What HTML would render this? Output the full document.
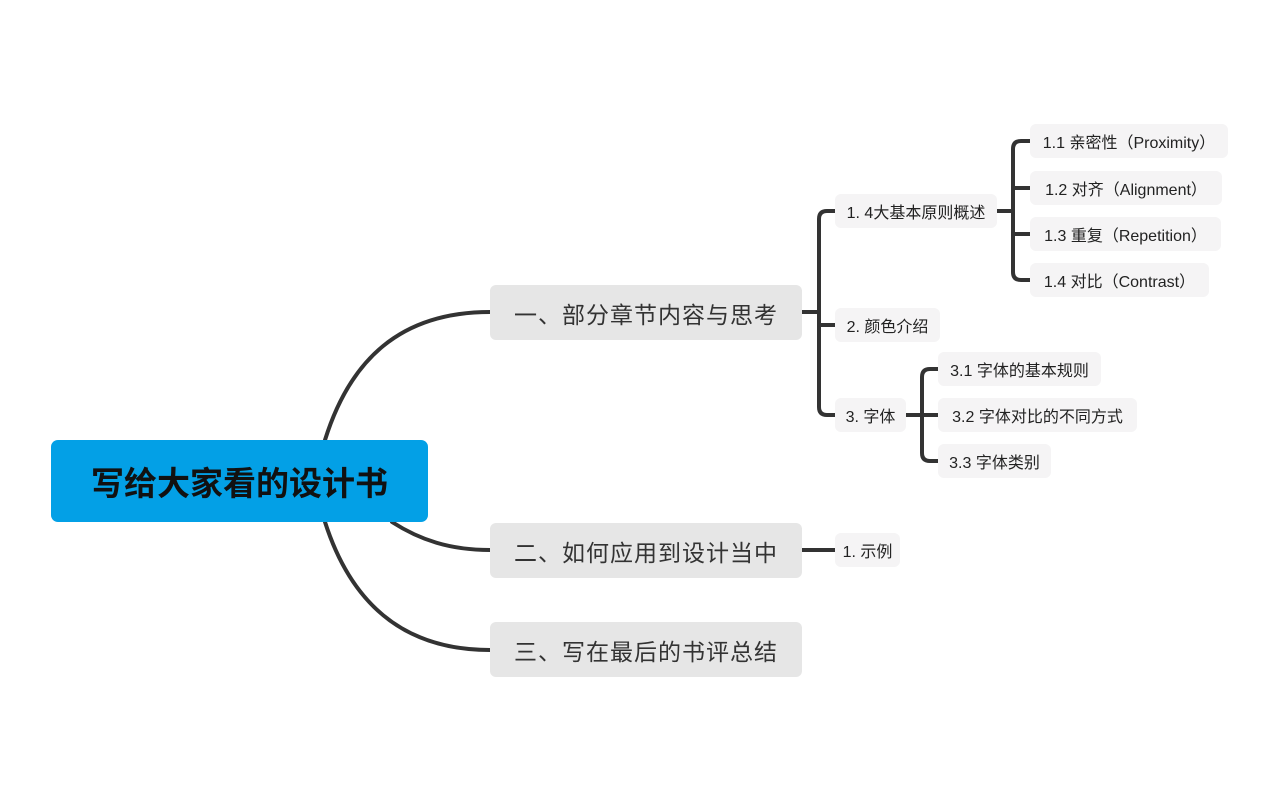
<!DOCTYPE html>
<html><head><meta charset="utf-8"><style>
body{margin:0;width:1280px;height:801px;background:#fff;position:relative;overflow:hidden;font-family:"Liberation Sans","Noto Sans CJK SC",sans-serif;}
.n{position:absolute;display:flex;align-items:center;justify-content:center;box-sizing:border-box;white-space:nowrap;}
.root{background:#03a0e6;border-radius:7px;color:#111;font-weight:bold;font-size:33px;}
.m{background:#e6e6e6;border-radius:6px;color:#333;font-size:23px;letter-spacing:1px;}
.s{background:#f5f4f5;border-radius:6px;color:#222;font-size:16px;}
svg{position:absolute;left:0;top:0;}
</style></head><body>
<svg width="1280" height="801" fill="none" stroke="#333" stroke-width="4" stroke-linecap="round">
<path d="M325 440 C 350 360, 400 312, 490 312"/>
<path d="M325 522 C 350 600, 400 650, 490 650"/>
<path d="M392 522 C 420 540, 450 550, 490 550"/>
<path d="M802 312 H819"/>
<path d="M835 211 H827 Q819 211 819 219 V407 Q819 415 827 415 H835"/>
<path d="M819 325 Q819 325 835 325" />
<path d="M802 550 H835"/>
<path d="M997 211 H1013"/>
<path d="M1030 141 H1021 Q1013 141 1013 149 V272 Q1013 280 1021 280 H1030"/>
<path d="M1013 188 H1030 M1013 234 H1030"/>
<path d="M906 415 H922"/>
<path d="M938 369 H930 Q922 369 922 377 V453 Q922 461 930 461 H938"/>
<path d="M922 415 H938"/>
</svg>
<div class="n root" style="left:51px;top:440px;width:377px;height:82px;">写给大家看的设计书</div>
<div class="n m" style="left:490px;top:285px;width:312px;height:55px;">一、部分章节内容与思考</div>
<div class="n m" style="left:490px;top:523px;width:312px;height:55px;">二、如何应用到设计当中</div>
<div class="n m" style="left:490px;top:622px;width:312px;height:55px;">三、写在最后的书评总结</div>
<div class="n s" style="left:835px;top:194px;width:162px;height:34px;">1. 4大基本原则概述</div>
<div class="n s" style="left:835px;top:308px;width:105px;height:34px;">2. 颜色介绍</div>
<div class="n s" style="left:835px;top:398px;width:71px;height:34px;">3. 字体</div>
<div class="n s" style="left:835px;top:533px;width:65px;height:34px;">1. 示例</div>
<div class="n s" style="left:1030px;top:124px;width:198px;height:34px;">1.1 亲密性（Proximity）</div>
<div class="n s" style="left:1030px;top:171px;width:192px;height:34px;">1.2 对齐（Alignment）</div>
<div class="n s" style="left:1030px;top:217px;width:191px;height:34px;">1.3 重复（Repetition）</div>
<div class="n s" style="left:1030px;top:263px;width:179px;height:34px;">1.4 对比（Contrast）</div>
<div class="n s" style="left:938px;top:352px;width:163px;height:34px;">3.1 字体的基本规则</div>
<div class="n s" style="left:938px;top:398px;width:199px;height:34px;">3.2 字体对比的不同方式</div>
<div class="n s" style="left:938px;top:444px;width:113px;height:34px;">3.3 字体类别</div>
</body></html>
